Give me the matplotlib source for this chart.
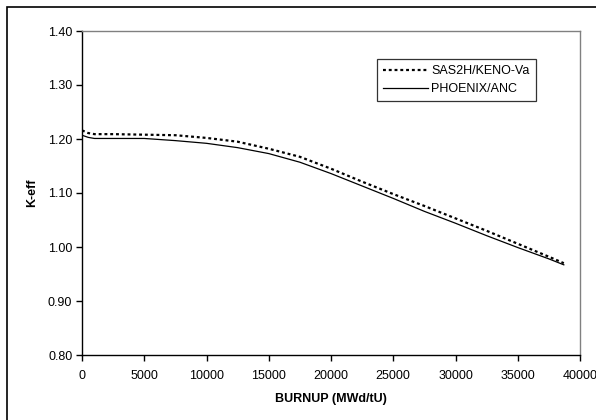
import matplotlib
matplotlib.use('Agg')
import matplotlib.pyplot as plt
from matplotlib.patches import Rectangle

plt.rcParams['font.family'] = ['Liberation Sans', 'DejaVu Sans']

# burnup points (MWd/tU) and k-eff for both code systems
burnup = [0, 500, 1000, 2500, 5000, 7500, 10000, 12500, 15000, 17500,
          20000, 22500, 25000, 27500, 30000, 32500, 35000, 37500, 38700]
keff_sas2h = [1.216, 1.211, 1.209, 1.209, 1.208, 1.207, 1.202, 1.195, 1.182, 1.167,
              1.145, 1.121, 1.098, 1.076, 1.053, 1.030, 1.006, 0.982, 0.970]
keff_phoenix = [1.207, 1.203, 1.201, 1.201, 1.201, 1.197, 1.192, 1.184, 1.173, 1.157,
                1.136, 1.113, 1.090, 1.066, 1.044, 1.021, 0.999, 0.978, 0.967]

xticks = list(range(0, 40001, 5000))
yticks = [0.80, 0.90, 1.00, 1.10, 1.20, 1.30, 1.40]

W, H = 596, 420
fig = plt.figure(figsize=(W / 100, H / 100), dpi=100)
ax = fig.add_axes([82 / W, 1 - 355 / H, 498 / W, 324 / H])

ax.plot(burnup, keff_sas2h, color='black', lw=1.6, ls=(0, (1.3, 1.3)),
        label='SAS2H/KENO-Va')
ax.plot(burnup, keff_phoenix, color='black', lw=0.9, label='PHOENIX/ANC')

ax.set_xlim(0, 40000)
ax.set_ylim(0.80, 1.40)
ax.set_xticks(xticks)
ax.set_yticks(yticks)
ax.set_yticklabels(['%.2f' % v for v in yticks])
ax.tick_params(direction='out', length=4, width=1, labelsize=9, colors='black')
ax.tick_params(axis='x', pad=7)
ax.tick_params(axis='y', pad=3)

for s in ['top', 'right']:
    ax.spines[s].set_color('#808080')
    ax.spines[s].set_linewidth(1)
for s in ['left', 'bottom']:
    ax.spines[s].set_color('black')
    ax.spines[s].set_linewidth(1)

ax.set_xlabel('BURNUP (MWd/tU)', fontsize=9, fontweight='bold')
ax.set_ylabel('K-eff', fontsize=9, fontweight='bold')
ax.xaxis.set_label_coords(0.5, -(399 - 355) / 324)
ax.xaxis.label.set_verticalalignment('center')
ax.yaxis.set_label_coords((32 - 82) / 498, 0.5)
ax.yaxis.label.set_verticalalignment('center')

leg = ax.legend(loc='upper left', bbox_to_anchor=(377 / W, 1 - 59 / H),
                bbox_transform=fig.transFigure, fontsize=9, frameon=True,
                fancybox=False, edgecolor='black', handlelength=3.6,
                borderpad=0.5, labelspacing=0.45, handletextpad=0.25,
                borderaxespad=0)
leg.get_frame().set_linewidth(0.9)

# outer chart border
fig.patches.append(Rectangle((7 / W, -0.1), 1.0, 1 - 7 / H + 0.1,
                             transform=fig.transFigure, fill=False,
                             edgecolor='black', lw=1.2))

fig.savefig('out.png', dpi=100)
